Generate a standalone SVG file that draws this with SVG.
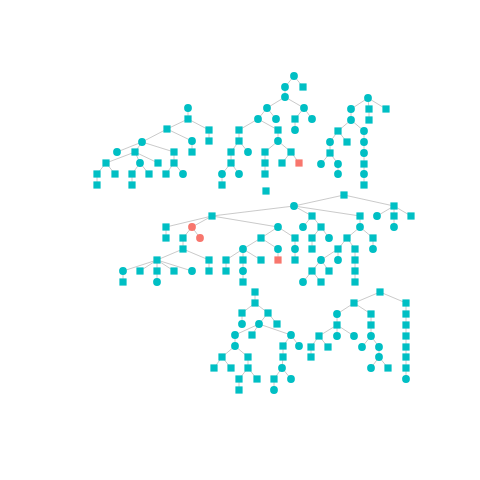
<svg xmlns="http://www.w3.org/2000/svg" xmlns:xlink="http://www.w3.org/1999/xlink" width="480" height="480" viewBox="0 0 480 480">
<style>
.t{fill:#00BFC4}.r{fill:#F8766D}
.e{fill:none;stroke:#C4C4C4;stroke-width:0.9}
</style>
<defs>
<rect id="s" x="-3.6" y="-3.6" width="7.2" height="7.2"/>
<circle id="c" r="3.9"/>
</defs>
<rect width="480" height="480" fill="#fff"/>
<g id="connectors" class="e">
<path d="M188 108L188 119M188 119L167 129M188 119L209 130M209 130L209 141M167 129L142 142M167 129L192 141M192 141L192 152M142 142L117 152M142 142L135 152M142 142L174 152M135 152L106 163M135 152L140 163M135 152L158 163M106 163L97 174M106 163L115 174M97 174L97 185M140 163L132 174M140 163L149 174M132 174L132 185M174 152L174 163M174 163L166 174M174 163L183 174"/>
<path d="M294 76L285 87M294 76L303 87M285 87L285 97M285 97L267 108M285 97L304 108M267 108L258 119M267 108L276 119M304 108L295 119M304 108L312 119M295 119L295 130M258 119L239 130M258 119L278 130M239 130L239 141M239 141L231 152M239 141L248 152M231 152L231 163M231 163L222 174M231 163L239 174M222 174L222 185M278 130L278 141M278 141L265 152M278 141L291 152M265 152L265 174M291 152L282 163M291 152L299 163"/>
<path d="M368 98L351 109M368 98L369 109M368 98L386 109M351 109L351 120M369 109L369 120M351 120L338 131M351 120L364 131M338 131L330 142M338 131L347 142M330 142L330 153M330 153L321 164M330 153L338 164M338 164L338 174M364 131L364 185"/>
<path d="M344 195L294 206M344 195L394 206M294 206L212 216M294 206L312 216M294 206L360 216M394 206L377 216M394 206L394 216M394 206L411 216M394 216L394 227M212 216L166 227M212 216L192 227M212 216L278 227M166 227L166 238M192 227L183 238M192 227L200 238M183 238L183 249M183 249L157 260M183 249L209 260M209 260L209 271M157 260L123 271M157 260L140 271M157 260L157 271M157 260L174 271M157 260L192 271M123 271L123 282M157 271L157 282M278 227L261 238M278 227L295 238M261 238L243 249M261 238L278 249M243 249L226 260M243 249L243 260M243 249L261 260M226 260L226 271M243 260L243 282M278 249L278 260M295 238L295 260M312 216L303 227M312 216L321 227M321 227L312 238M321 227L329 238M312 238L312 249M360 216L360 227M360 227L347 238M360 227L373 238M347 238L338 249M347 238L355 249M338 249L321 260M338 249L338 260M321 260L312 271M321 260L329 271M312 271L303 282M312 271L321 282M355 249L355 282M373 238L373 249"/>
<path d="M255 292L255 303M255 303L242 313M255 303L268 313M242 313L242 324M268 313L259 324M268 313L277 324M259 324L235 335M259 324L252 335M259 324L291 335M235 335L235 346M235 346L222 357M235 346L248 357M222 357L214 368M222 357L231 368M248 357L248 368M248 368L239 379M248 368L257 379M239 379L239 390M291 335L283 346M291 335L299 346M283 346L283 357M283 357L282 368M282 368L274 379M282 368L291 379M274 379L274 390"/>
<path d="M380 292L354 303M380 292L406 303M354 303L337 314M354 303L371 314M337 314L337 325M337 325L319 336M337 325L337 336M337 325L354 336M319 336L311 347M319 336L328 347M311 347L311 357M371 314L371 336M371 336L362 347M371 336L379 347M379 347L379 357M379 357L371 368M379 357L388 368M406 303L406 379"/>
</g>
<g id="nodes">
<g id="a1"><use href="#c" class="t" x="188" y="108"/></g>
<g id="a2"><use href="#s" class="t" x="188" y="119"/></g>
<g id="a3"><use href="#s" class="t" x="167" y="129"/></g>
<g id="a4"><use href="#s" class="t" x="209" y="130"/></g>
<g id="a5"><use href="#s" class="t" x="209" y="141"/></g>
<g id="a6"><use href="#c" class="t" x="142" y="142"/></g>
<g id="a7"><use href="#c" class="t" x="192" y="141"/></g>
<g id="a8"><use href="#s" class="t" x="192" y="152"/></g>
<g id="a9"><use href="#c" class="t" x="117" y="152"/></g>
<g id="a10"><use href="#s" class="t" x="135" y="152"/></g>
<g id="a11"><use href="#s" class="t" x="174" y="152"/></g>
<g id="a12"><use href="#s" class="t" x="106" y="163"/></g>
<g id="a13"><use href="#c" class="t" x="140" y="163"/></g>
<g id="a14"><use href="#s" class="t" x="158" y="163"/></g>
<g id="a15"><use href="#s" class="t" x="174" y="163"/></g>
<g id="a16"><use href="#s" class="t" x="97" y="174"/></g>
<g id="a17"><use href="#s" class="t" x="115" y="174"/></g>
<g id="a18"><use href="#s" class="t" x="132" y="174"/></g>
<g id="a19"><use href="#s" class="t" x="149" y="174"/></g>
<g id="a20"><use href="#s" class="t" x="166" y="174"/></g>
<g id="a21"><use href="#c" class="t" x="183" y="174"/></g>
<g id="a22"><use href="#s" class="t" x="97" y="185"/></g>
<g id="a23"><use href="#s" class="t" x="132" y="185"/></g>

<g id="b1"><use href="#c" class="t" x="294" y="76"/></g>
<g id="b2"><use href="#c" class="t" x="285" y="87"/></g>
<g id="b3"><use href="#s" class="t" x="303" y="87"/></g>
<g id="b4"><use href="#c" class="t" x="285" y="97"/></g>
<g id="b5"><use href="#c" class="t" x="267" y="108"/></g>
<g id="b6"><use href="#c" class="t" x="304" y="108"/></g>
<g id="b7"><use href="#c" class="t" x="258" y="119"/></g>
<g id="b8"><use href="#c" class="t" x="276" y="119"/></g>
<g id="b9"><use href="#s" class="t" x="295" y="119"/></g>
<g id="b10"><use href="#c" class="t" x="312" y="119"/></g>
<g id="b11"><use href="#s" class="t" x="239" y="130"/></g>
<g id="b12"><use href="#s" class="t" x="278" y="130"/></g>
<g id="b13"><use href="#c" class="t" x="295" y="130"/></g>
<g id="b14"><use href="#s" class="t" x="239" y="141"/></g>
<g id="b15"><use href="#c" class="t" x="278" y="141"/></g>
<g id="b16"><use href="#s" class="t" x="231" y="152"/></g>
<g id="b17"><use href="#c" class="t" x="248" y="152"/></g>
<g id="b18"><use href="#s" class="t" x="265" y="152"/></g>
<g id="b19"><use href="#s" class="t" x="291" y="152"/></g>
<g id="b20"><use href="#s" class="t" x="231" y="163"/></g>
<g id="b21"><use href="#s" class="t" x="265" y="163"/></g>
<g id="b22"><use href="#s" class="t" x="282" y="163"/></g>
<g id="b23"><use href="#s" class="r" x="299" y="163"/></g>
<g id="b24"><use href="#c" class="t" x="222" y="174"/></g>
<g id="b25"><use href="#c" class="t" x="239" y="174"/></g>
<g id="b26"><use href="#s" class="t" x="265" y="174"/></g>
<g id="b27"><use href="#s" class="t" x="222" y="185"/></g>
<g id="i1"><use href="#s" class="t" x="266" y="191"/></g>

<g id="c1"><use href="#c" class="t" x="368" y="98"/></g>
<g id="c2"><use href="#c" class="t" x="351" y="109"/></g>
<g id="c3"><use href="#s" class="t" x="369" y="109"/></g>
<g id="c4"><use href="#s" class="t" x="386" y="109"/></g>
<g id="c5"><use href="#c" class="t" x="351" y="120"/></g>
<g id="c6"><use href="#s" class="t" x="369" y="120"/></g>
<g id="c7"><use href="#s" class="t" x="338" y="131"/></g>
<g id="c8"><use href="#c" class="t" x="364" y="131"/></g>
<g id="c9"><use href="#c" class="t" x="330" y="142"/></g>
<g id="c10"><use href="#s" class="t" x="347" y="142"/></g>
<g id="c11"><use href="#c" class="t" x="364" y="142"/></g>
<g id="c12"><use href="#s" class="t" x="330" y="153"/></g>
<g id="c13"><use href="#c" class="t" x="364" y="153"/></g>
<g id="c14"><use href="#c" class="t" x="321" y="164"/></g>
<g id="c15"><use href="#c" class="t" x="338" y="164"/></g>
<g id="c16"><use href="#s" class="t" x="364" y="164"/></g>
<g id="c17"><use href="#c" class="t" x="338" y="174"/></g>
<g id="c18"><use href="#c" class="t" x="364" y="174"/></g>
<g id="c19"><use href="#s" class="t" x="364" y="185"/></g>

<g id="d0"><use href="#s" class="t" x="344" y="195"/></g>
<g id="d1"><use href="#c" class="t" x="294" y="206"/></g>
<g id="d2"><use href="#s" class="t" x="394" y="206"/></g>
<g id="d3"><use href="#s" class="t" x="212" y="216"/></g>
<g id="d4"><use href="#s" class="t" x="312" y="216"/></g>
<g id="d5"><use href="#s" class="t" x="360" y="216"/></g>
<g id="d6"><use href="#c" class="t" x="377" y="216"/></g>
<g id="d7"><use href="#s" class="t" x="394" y="216"/></g>
<g id="d8"><use href="#s" class="t" x="411" y="216"/></g>
<g id="d9"><use href="#s" class="t" x="166" y="227"/></g>
<g id="d10"><use href="#c" class="r" x="192" y="227"/></g>
<g id="d11"><use href="#c" class="t" x="278" y="227"/></g>
<g id="d12"><use href="#c" class="t" x="303" y="227"/></g>
<g id="d13"><use href="#s" class="t" x="321" y="227"/></g>
<g id="d14"><use href="#c" class="t" x="360" y="227"/></g>
<g id="d15"><use href="#c" class="t" x="394" y="227"/></g>
<g id="d16"><use href="#s" class="t" x="166" y="238"/></g>
<g id="d17"><use href="#s" class="t" x="183" y="238"/></g>
<g id="d18"><use href="#c" class="r" x="200" y="238"/></g>
<g id="d19"><use href="#s" class="t" x="261" y="238"/></g>
<g id="d20"><use href="#s" class="t" x="295" y="238"/></g>
<g id="d21"><use href="#s" class="t" x="312" y="238"/></g>
<g id="d22"><use href="#c" class="t" x="329" y="238"/></g>
<g id="d23"><use href="#s" class="t" x="347" y="238"/></g>
<g id="d24"><use href="#s" class="t" x="373" y="238"/></g>
<g id="d25"><use href="#s" class="t" x="183" y="249"/></g>
<g id="d26"><use href="#c" class="t" x="243" y="249"/></g>
<g id="d27"><use href="#c" class="t" x="278" y="249"/></g>
<g id="d28"><use href="#c" class="t" x="295" y="249"/></g>
<g id="d29"><use href="#s" class="t" x="312" y="249"/></g>
<g id="d30"><use href="#s" class="t" x="338" y="249"/></g>
<g id="d31"><use href="#s" class="t" x="355" y="249"/></g>
<g id="d32"><use href="#c" class="t" x="373" y="249"/></g>
<g id="d33"><use href="#s" class="t" x="157" y="260"/></g>
<g id="d34"><use href="#s" class="t" x="209" y="260"/></g>
<g id="d35"><use href="#s" class="t" x="226" y="260"/></g>
<g id="d36"><use href="#s" class="t" x="243" y="260"/></g>
<g id="d37"><use href="#s" class="t" x="261" y="260"/></g>
<g id="d38"><use href="#s" class="r" x="278" y="260"/></g>
<g id="d39"><use href="#s" class="t" x="295" y="260"/></g>
<g id="d40"><use href="#c" class="t" x="321" y="260"/></g>
<g id="d41"><use href="#c" class="t" x="338" y="260"/></g>
<g id="d42"><use href="#s" class="t" x="355" y="260"/></g>
<g id="d43"><use href="#c" class="t" x="123" y="271"/></g>
<g id="d44"><use href="#s" class="t" x="140" y="271"/></g>
<g id="d45"><use href="#s" class="t" x="157" y="271"/></g>
<g id="d46"><use href="#s" class="t" x="174" y="271"/></g>
<g id="d47"><use href="#c" class="t" x="192" y="271"/></g>
<g id="d48"><use href="#s" class="t" x="209" y="271"/></g>
<g id="d49"><use href="#s" class="t" x="226" y="271"/></g>
<g id="d50"><use href="#c" class="t" x="243" y="271"/></g>
<g id="d51"><use href="#s" class="t" x="312" y="271"/></g>
<g id="d52"><use href="#s" class="t" x="329" y="271"/></g>
<g id="d53"><use href="#s" class="t" x="355" y="271"/></g>
<g id="d54"><use href="#s" class="t" x="123" y="282"/></g>
<g id="d55"><use href="#c" class="t" x="157" y="282"/></g>
<g id="d56"><use href="#s" class="t" x="243" y="282"/></g>
<g id="d57"><use href="#c" class="t" x="303" y="282"/></g>
<g id="d58"><use href="#s" class="t" x="321" y="282"/></g>
<g id="d59"><use href="#s" class="t" x="355" y="282"/></g>

<g id="e1"><use href="#s" class="t" x="255" y="292"/></g>
<g id="e2"><use href="#s" class="t" x="255" y="303"/></g>
<g id="e3"><use href="#s" class="t" x="242" y="313"/></g>
<g id="e4"><use href="#s" class="t" x="268" y="313"/></g>
<g id="e5"><use href="#c" class="t" x="242" y="324"/></g>
<g id="e6"><use href="#c" class="t" x="259" y="324"/></g>
<g id="e7"><use href="#s" class="t" x="277" y="324"/></g>
<g id="e8"><use href="#c" class="t" x="235" y="335"/></g>
<g id="e9"><use href="#s" class="t" x="252" y="335"/></g>
<g id="e10"><use href="#c" class="t" x="291" y="335"/></g>
<g id="e11"><use href="#c" class="t" x="235" y="346"/></g>
<g id="e12"><use href="#s" class="t" x="283" y="346"/></g>
<g id="e13"><use href="#c" class="t" x="299" y="346"/></g>
<g id="e14"><use href="#s" class="t" x="222" y="357"/></g>
<g id="e15"><use href="#s" class="t" x="248" y="357"/></g>
<g id="e16"><use href="#s" class="t" x="283" y="357"/></g>
<g id="e17"><use href="#s" class="t" x="214" y="368"/></g>
<g id="e18"><use href="#s" class="t" x="231" y="368"/></g>
<g id="e19"><use href="#s" class="t" x="248" y="368"/></g>
<g id="e20"><use href="#c" class="t" x="282" y="368"/></g>
<g id="e21"><use href="#s" class="t" x="239" y="379"/></g>
<g id="e22"><use href="#s" class="t" x="257" y="379"/></g>
<g id="e23"><use href="#s" class="t" x="274" y="379"/></g>
<g id="e24"><use href="#c" class="t" x="291" y="379"/></g>
<g id="e25"><use href="#s" class="t" x="239" y="390"/></g>
<g id="e26"><use href="#c" class="t" x="274" y="390"/></g>

<g id="f1"><use href="#s" class="t" x="380" y="292"/></g>
<g id="f2"><use href="#s" class="t" x="354" y="303"/></g>
<g id="f3"><use href="#s" class="t" x="406" y="303"/></g>
<g id="f4"><use href="#c" class="t" x="337" y="314"/></g>
<g id="f5"><use href="#s" class="t" x="371" y="314"/></g>
<g id="f6"><use href="#s" class="t" x="406" y="314"/></g>
<g id="f7"><use href="#s" class="t" x="337" y="325"/></g>
<g id="f8"><use href="#s" class="t" x="371" y="325"/></g>
<g id="f9"><use href="#s" class="t" x="406" y="325"/></g>
<g id="f10"><use href="#s" class="t" x="319" y="336"/></g>
<g id="f11"><use href="#c" class="t" x="337" y="336"/></g>
<g id="f12"><use href="#c" class="t" x="354" y="336"/></g>
<g id="f13"><use href="#c" class="t" x="371" y="336"/></g>
<g id="f14"><use href="#s" class="t" x="406" y="336"/></g>
<g id="f15"><use href="#s" class="t" x="311" y="347"/></g>
<g id="f16"><use href="#s" class="t" x="328" y="347"/></g>
<g id="f17"><use href="#c" class="t" x="362" y="347"/></g>
<g id="f18"><use href="#c" class="t" x="379" y="347"/></g>
<g id="f19"><use href="#s" class="t" x="406" y="347"/></g>
<g id="f20"><use href="#s" class="t" x="311" y="357"/></g>
<g id="f21"><use href="#c" class="t" x="379" y="357"/></g>
<g id="f22"><use href="#s" class="t" x="406" y="357"/></g>
<g id="f23"><use href="#c" class="t" x="371" y="368"/></g>
<g id="f24"><use href="#s" class="t" x="388" y="368"/></g>
<g id="f25"><use href="#s" class="t" x="406" y="368"/></g>
<g id="f26"><use href="#c" class="t" x="406" y="379"/></g>
</g>
</svg>
